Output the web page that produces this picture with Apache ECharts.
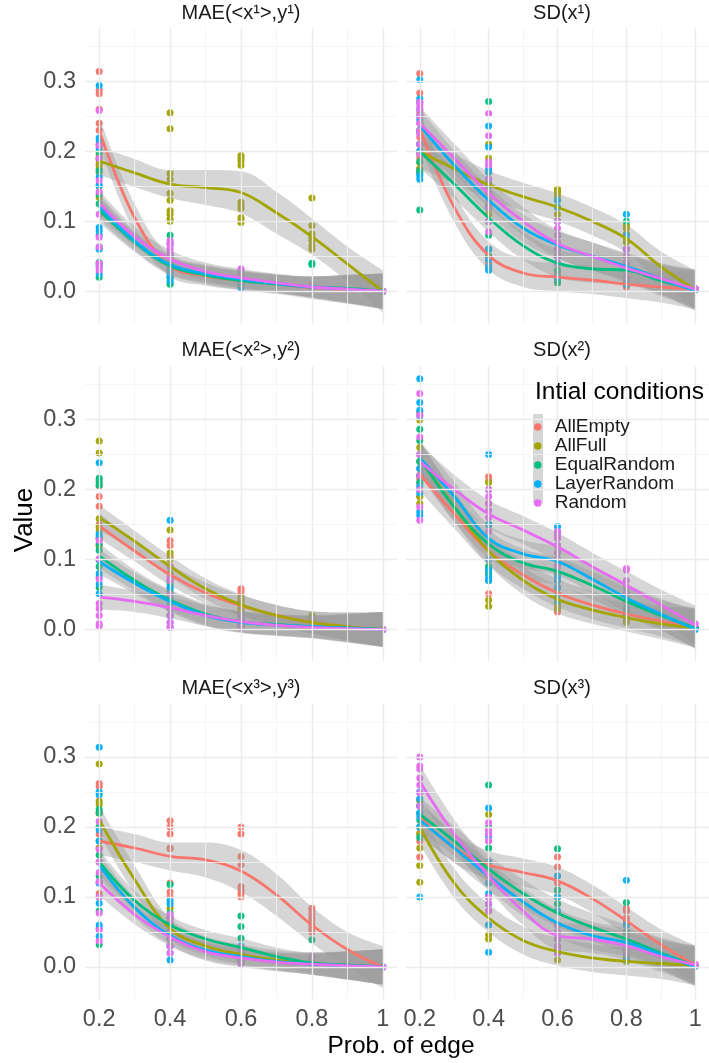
<!DOCTYPE html>
<html><head><meta charset="utf-8">
<script src="https://cdn.jsdelivr.net/npm/echarts@6/dist/echarts.min.js"></script>
<style>html,body{margin:0;padding:0;background:#fff}#c{width:709px;height:1063px}</style>
</head><body><div id="c"></div>
<script>
const seriesNames = ['AllEmpty','AllFull','EqualRandom','LayerRandom','Random'];
const seriesColors = ['#F8766D','#A3A500','#00BF7D','#00B0F6','#E76BF3'];
const panelTitles = ['MAE(<x\u00b9>,y\u00b9)','SD(x\u00b9)','MAE(<x\u00b2>,y\u00b2)','SD(x\u00b2)','MAE(<x\u00b3>,y\u00b3)','SD(x\u00b3)'];
const xLevels = [0.2,0.4,0.6,0.8,1];
const fitX = [0.2,0.3,0.4,0.5,0.6,0.7,0.8,0.9,1];
const xTicks = [0.2,0.4,0.6,0.8,1];
const xMinor = [0.3,0.5,0.7,0.9];
const yTicks = [0,0.1,0.2,0.3];
const yMinor = [0.05,0.15,0.25,0.35];
const xRange = [0.16,1.04];
const yRange = [-0.046,0.376];

// observed points: [series][x level][replicates]
const mae1Pts = [
 [[0.314,0.287,0.282,0.23,0.187,0.18,0.21,0.24,0.26,0.2],[0.05,0.045,0.04,0.035,0.03,0.03,0.025,0.02],[0.02,0.018,0.015,0.012,0.01,0.008],[0.006,0.005,0.004,0.003],[0,0,0]],
 [[0.21,0.2,0.195,0.19,0.182,0.175,0.17,0.134],[0.255,0.232,0.168,0.16,0.14,0.13,0.115,0.11,0.103,0.1],[0.194,0.19,0.186,0.18,0.127,0.122,0.118,0.105,0.101,0.098],[0.133,0.094,0.082,0.077,0.072,0.065,0.06],[0,0,0]],
 [[0.199,0.19,0.172,0.15,0.138,0.125,0.063,0.041,0.038,0.02],[0.08,0.068,0.05,0.04,0.03,0.02,0.012,0.01],[0.02,0.015,0.012,0.01,0.008],[0.04,0.038,0.005,0.004],[0,0]],
 [[0.294,0.219,0.215,0.205,0.163,0.152,0.091,0.086,0.08,0.06,0.035,0.025],[0.05,0.04,0.035,0.03,0.025,0.02,0.015],[0.02,0.015,0.01,0.008,0.005],[0.006,0.004,0.003],[0]],
 [[0.258,0.208,0.19,0.158,0.142,0.11,0.077,0.063,0.04,0.035,0.03],[0.072,0.068,0.065,0.06,0.055,0.05,0.045,0.04],[0.032,0.03,0.025,0.02,0.015],[0.008,0.005,0.004],[0]]
];
const sd1Pts = [
 [[0.311,0.283,0.27,0.255,0.24,0.22,0.19,0.175,0.17],[0.06,0.05,0.045,0.04,0.036,0.032],[0.03,0.025,0.02,0.018,0.015,0.012],[0.015,0.012,0.01,0.008,0.006],[0.003,0.002]],
 [[0.226,0.21,0.2,0.195,0.184,0.175],[0.21,0.19,0.17,0.155,0.14,0.124,0.118,0.11,0.1],[0.146,0.143,0.14,0.135,0.13,0.12,0.11,0.1],[0.094,0.09,0.082,0.075,0.07,0.06],[0.003]],
 [[0.25,0.23,0.21,0.2,0.185,0.172,0.168,0.116],[0.271,0.15,0.12,0.1,0.08,0.06,0.05,0.045],[0.06,0.05,0.04,0.03,0.02,0.015,0.012],[0.1,0.06,0.04,0.03,0.02,0.01],[0.003]],
 [[0.302,0.275,0.27,0.26,0.245,0.23,0.21,0.2,0.165,0.16],[0.236,0.206,0.175,0.17,0.16,0.12,0.1,0.06,0.045,0.035,0.03],[0.13,0.12,0.1,0.08,0.06,0.05,0.04,0.02],[0.11,0.08,0.06,0.04,0.03,0.02,0.01],[0.002]],
 [[0.27,0.265,0.26,0.25,0.24,0.23,0.225,0.21,0.196],[0.254,0.222,0.185,0.18,0.16,0.14,0.13,0.12,0.1,0.085],[0.1,0.09,0.08,0.07,0.06,0.05,0.04],[0.06,0.05,0.04,0.03,0.02],[0.004]]
];
const mae2Pts = [
 [[0.213,0.205,0.19,0.176,0.15,0.13,0.12,0.1],[0.127,0.12,0.104,0.09,0.08,0.07,0.06],[0.058,0.055,0.05,0.045,0.04,0.03],[0.018,0.015,0.012,0.01],[0]],
 [[0.269,0.252,0.158,0.146,0.14,0.13,0.12],[0.142,0.109,0.1,0.09,0.08,0.07],[0.045,0.04,0.035,0.03,0.025],[0.02,0.018,0.015],[0]],
 [[0.216,0.21,0.206,0.122,0.113,0.1,0.09,0.06],[0.065,0.055,0.05,0.045,0.035,0.02],[0.02,0.015,0.01,0.006],[0.005,0.003],[0]],
 [[0.238,0.136,0.132,0.099,0.08,0.075,0.065,0.051],[0.156,0.06,0.05,0.04,0.03,0.02,0.01,0.003],[0.02,0.012,0.008,0.005],[0.005,0.003],[0]],
 [[0.127,0.101,0.072,0.037,0.03,0.02,0.008,0.005],[0.09,0.075,0.07,0.05,0.03,0.02,0.01,0.003],[0.02,0.015,0.01,0.005,0.002],[0.004,0.002],[0]]
];
const sd2Pts = [
 [[0.23,0.22,0.215,0.208,0.2,0.19],[0.218,0.212,0.15,0.12,0.1,0.08,0.051],[0.08,0.07,0.06,0.05,0.04,0.03,0.025],[0.05,0.04,0.03,0.02,0.015],[0.003]],
 [[0.31,0.299,0.26,0.24,0.22,0.19,0.18],[0.21,0.18,0.12,0.09,0.07,0.042,0.033],[0.06,0.05,0.04,0.035,0.03],[0.025,0.02,0.015,0.01],[0.002]],
 [[0.286,0.27,0.25,0.24,0.22,0.21],[0.2,0.15,0.12,0.09,0.085,0.08],[0.12,0.1,0.09,0.08,0.07,0.05,0.04],[0.06,0.05,0.04,0.03,0.02],[0.002]],
 [[0.358,0.324,0.313,0.305,0.23,0.204,0.195,0.168,0.163],[0.25,0.15,0.123,0.1,0.085,0.075,0.07],[0.147,0.14,0.11,0.09,0.075,0.07,0.06],[0.06,0.05,0.04,0.03,0.02],[0]],
 [[0.337,0.306,0.275,0.25,0.22,0.2,0.175,0.156],[0.2,0.19,0.18,0.17,0.16,0.14,0.12],[0.14,0.135,0.13,0.12,0.11,0.1,0.09],[0.087,0.085,0.07,0.06,0.05,0.04],[0.008]]
];
const mae3Pts = [
 [[0.262,0.258,0.22,0.19,0.17,0.15,0.12,0.105],[0.209,0.2,0.19,0.17,0.169,0.12,0.107,0.1],[0.2,0.19,0.158,0.146,0.115,0.11,0.105,0.1],[0.084,0.08,0.075,0.07,0.066,0.06,0.055,0.05],[0]],
 [[0.29,0.237,0.232,0.22,0.2,0.18,0.17],[0.084,0.07,0.06,0.05,0.04,0.03],[0.025,0.02,0.015,0.01],[0.008,0.005],[0]],
 [[0.225,0.22,0.2,0.16,0.13,0.1,0.08,0.032],[0.118,0.077,0.07,0.06,0.05,0.04,0.03],[0.073,0.058,0.041,0.025,0.015,0.01],[0.039,0.01,0.005],[0]],
 [[0.314,0.25,0.246,0.196,0.18,0.12,0.091,0.06,0.055,0.044],[0.095,0.09,0.05,0.04,0.03,0.02,0.01],[0.03,0.02,0.01,0.005],[0.006,0.003],[0]],
 [[0.208,0.168,0.15,0.135,0.122,0.1,0.077,0.053,0.037],[0.075,0.07,0.065,0.05,0.04,0.03,0.02],[0.028,0.02,0.015,0.01,0.005],[0.015,0.008,0.004],[0]]
];
const sd3Pts = [
 [[0.24,0.22,0.2,0.191,0.18,0.157],[0.196,0.19,0.18,0.15,0.13,0.12,0.1],[0.157,0.143,0.13,0.12,0.11,0.1,0.09],[0.084,0.08,0.07,0.065,0.06,0.05,0.045],[0.003]],
 [[0.237,0.2,0.19,0.17,0.145,0.121],[0.218,0.1,0.08,0.06,0.046,0.04],[0.04,0.03,0.025,0.02,0.01],[0.015,0.01,0.008],[0.002]],
 [[0.23,0.22,0.21,0.2,0.185],[0.26,0.2,0.17,0.15,0.14,0.1,0.09],[0.169,0.11,0.1,0.09,0.08,0.06,0.05],[0.092,0.06,0.05,0.04,0.03,0.02,0.01],[0.002]],
 [[0.25,0.24,0.23,0.22,0.215,0.2,0.1],[0.227,0.187,0.15,0.12,0.105,0.09,0.06,0.021],[0.13,0.1,0.08,0.06,0.05,0.04,0.02],[0.124,0.06,0.04,0.03,0.02,0.01],[0.001]],
 [[0.3,0.287,0.283,0.27,0.26,0.249,0.23],[0.206,0.195,0.19,0.18,0.1,0.09,0.08],[0.06,0.05,0.04,0.03,0.025,0.02],[0.04,0.035,0.03,0.025,0.02],[0.004]]
];

// smoothed fits at fitX: [series][9]
const mae1Fit = [
 [0.23,0.105,0.036,0.022,0.015,0.01,0.005,0.002,0],
 [0.186,0.169,0.153,0.148,0.141,0.112,0.078,0.039,0],
 [0.116,0.07,0.036,0.023,0.015,0.01,0.006,0.004,0],
 [0.121,0.072,0.038,0.025,0.017,0.011,0.006,0.003,0],
 [0.126,0.078,0.046,0.028,0.019,0.012,0.006,0.003,0]
];
const sd1Fit = [
 [0.232,0.12,0.051,0.026,0.02,0.016,0.01,0.006,0.002],
 [0.2,0.175,0.152,0.135,0.12,0.1,0.075,0.035,0.002],
 [0.2,0.153,0.105,0.065,0.04,0.032,0.03,0.015,0.003],
 [0.237,0.18,0.13,0.09,0.066,0.05,0.035,0.018,0],
 [0.24,0.19,0.14,0.1,0.068,0.05,0.033,0.018,0.003]
];
const mae2Fit = [
 [0.148,0.112,0.078,0.052,0.034,0.02,0.01,0.004,0],
 [0.16,0.126,0.09,0.058,0.035,0.02,0.01,0.004,0],
 [0.105,0.07,0.042,0.022,0.011,0.007,0.004,0.002,0],
 [0.097,0.066,0.04,0.02,0.01,0.006,0.004,0.002,0],
 [0.046,0.04,0.031,0.02,0.011,0.006,0.003,0.001,0]
];
const sd2Fit = [
 [0.222,0.165,0.112,0.078,0.052,0.035,0.022,0.012,0.003],
 [0.245,0.175,0.112,0.07,0.043,0.028,0.017,0.008,0.002],
 [0.245,0.175,0.122,0.095,0.083,0.063,0.04,0.02,0.002],
 [0.245,0.19,0.13,0.108,0.097,0.072,0.045,0.022,0],
 [0.24,0.2,0.165,0.142,0.118,0.09,0.063,0.035,0.006]
];
const mae3Fit = [
 [0.18,0.17,0.158,0.153,0.137,0.103,0.06,0.025,0],
 [0.21,0.125,0.055,0.03,0.018,0.01,0.005,0.002,0],
 [0.15,0.095,0.06,0.04,0.028,0.015,0.006,0.003,0],
 [0.145,0.085,0.045,0.024,0.015,0.008,0.004,0.002,0],
 [0.12,0.075,0.043,0.022,0.013,0.007,0.004,0.002,0]
];
const sd3Fit = [
 [0.215,0.17,0.146,0.135,0.123,0.098,0.066,0.032,0.003],
 [0.2,0.12,0.07,0.038,0.022,0.013,0.008,0.005,0.002],
 [0.218,0.18,0.14,0.105,0.077,0.057,0.04,0.02,0.002],
 [0.21,0.17,0.13,0.093,0.063,0.045,0.035,0.018,0],
 [0.265,0.19,0.13,0.08,0.045,0.04,0.03,0.015,0.003]
];

// confidence band half-widths at fitX
const seNarrow = [0.018,0.014,0.013,0.013,0.013,0.013,0.015,0.02,0.025];
const seSteep = [0.02,0.02,0.015,0.014,0.014,0.014,0.016,0.02,0.026];
const seWave = [0.02,0.02,0.02,0.025,0.03,0.03,0.026,0.025,0.03];
const seSD = [0.024,0.021,0.02,0.02,0.02,0.02,0.02,0.022,0.028];
const seMid = [0.018,0.015,0.015,0.015,0.015,0.015,0.016,0.02,0.025];
const mae1Se = [seSteep, seWave, seNarrow, seNarrow, seNarrow];
const sd1Se = [seSD, seSD, seSD, seSD, seSD];
const mae2Se = [seMid, seMid, seMid, seMid, seMid];
const sd2Se = [seSD, seSD, seSD, seSD, seSD];
const mae3Se = [seWave, seSteep, seNarrow, seNarrow, seNarrow];
const sd3Se = [seSD, seSD, seSD, seSD, seSD];

const panelPts = [mae1Pts, sd1Pts, mae2Pts, sd2Pts, mae3Pts, sd3Pts];
const panelFit = [mae1Fit, sd1Fit, mae2Fit, sd2Fit, mae3Fit, sd3Fit];
const panelSe = [mae1Se, sd1Se, mae2Se, sd2Se, mae3Se, sd3Se];

// layout
const colLeft = [85, 406];
const rowTop = [28, 366.2, 703.8];
const panelW = 312, panelH = 295.4;
const stripY = [13, 350, 688];
const FONT = '"Liberation Sans", Arial, Helvetica, sans-serif';

const grids = [], xAxes = [], yAxes = [], series = [], titles = [];
const majorStyle = {color:'#ebebeb', width:1.4, type:'solid'};
const minorStyle = {color:'#f3f3f3', width:0.8, type:'solid'};

for (let p = 0; p < 6; p++) {
  const col = p % 2, row = Math.floor(p / 2);
  grids.push({left: colLeft[col], top: rowTop[row], width: panelW, height: panelH, containLabel: false});
  xAxes.push({
    type: 'value', gridIndex: p, min: xRange[0], max: xRange[1],
    axisLine: {show: false}, axisTick: {show: false}, splitLine: {show: false},
    axisLabel: {show: row === 2, customValues: xTicks, margin: 8, fontSize: 23.5, color: '#4d4d4d', fontFamily: FONT,
      formatter: v => String(v)}
  });
  yAxes.push({
    type: 'value', gridIndex: p, min: yRange[0], max: yRange[1],
    axisLine: {show: false}, axisTick: {show: false}, splitLine: {show: false},
    axisLabel: {show: col === 0, customValues: yTicks, margin: 9, fontSize: 23.5, color: '#4d4d4d', fontFamily: FONT,
      formatter: v => v.toFixed(1)}
  });
  titles.push({text: panelTitles[p], left: colLeft[col] + panelW / 2, top: stripY[row], padding: 0,
    textAlign: 'center', textVerticalAlign: 'middle',
    textStyle: {fontSize: 20, fontWeight: 'normal', color: '#1a1a1a', fontFamily: FONT}});
  // grid lines
  series.push({
    type: 'line', xAxisIndex: p, yAxisIndex: p, data: [], z: 1, silent: true,
    markLine: {silent: true, symbol: ['none','none'], label: {show: false}, animation: false,
      emphasis: {disabled: true},
      data: [
        ...xMinor.map(v => ({xAxis: v, lineStyle: minorStyle})),
        ...yMinor.map(v => ({yAxis: v, lineStyle: minorStyle})),
        ...xTicks.map(v => ({xAxis: v, lineStyle: majorStyle})),
        ...yTicks.map(v => ({yAxis: v, lineStyle: majorStyle}))
      ]}
  });
  // points
  for (let s = 0; s < 5; s++) {
    const data = [];
    panelPts[p][s].forEach((vals, j) => vals.forEach(v => data.push([xLevels[j], v])));
    series.push({type: 'scatter', name: seriesNames[s], xAxisIndex: p, yAxisIndex: p, data,
      symbolSize: 7, itemStyle: {color: seriesColors[s], opacity: 1, borderWidth: 0}, z: 2, silent: true});
  }
  // bands + lines (band rows are [value, x] so the stack runs along y)
  for (let s = 0; s < 5; s++) {
    const fit = panelFit[p][s], se = panelSe[p][s];
    const stackId = 'band' + p + '_' + s;
    series.push({type: 'line', xAxisIndex: p, yAxisIndex: p, stack: stackId, stackStrategy: 'all',
      encode: {x: 1, y: 0},
      data: fitX.map((x, k) => [fit[k] - se[k], x]), smooth: 0.4, symbol: 'none',
      lineStyle: {width: 0, opacity: 0}, z: 3, silent: true});
    series.push({type: 'line', xAxisIndex: p, yAxisIndex: p, stack: stackId, stackStrategy: 'all',
      encode: {x: 1, y: 0},
      data: fitX.map((x, k) => [2 * se[k], x]), smooth: 0.4, symbol: 'none',
      lineStyle: {width: 0, opacity: 0}, areaStyle: {color: '#999999', opacity: 0.4}, z: 3, silent: true});
    series.push({type: 'line', xAxisIndex: p, yAxisIndex: p,
      data: fitX.map((x, k) => [x, fit[k]]), smooth: 0.4, symbol: 'none',
      lineStyle: {width: 2.8, color: seriesColors[s]}, z: 3, silent: true});
  }
}

titles.push({text: 'Intial conditions', left: 535, top: 392, padding: 0, textAlign: 'left', textVerticalAlign: 'middle',
  textStyle: {fontSize: 24.5, fontWeight: 'normal', color: '#000', fontFamily: FONT}});
titles.push({text: 'Prob. of edge', left: 401, top: 1046, padding: 0, textAlign: 'center', textVerticalAlign: 'middle',
  textStyle: {fontSize: 24.5, fontWeight: 'normal', color: '#000', fontFamily: FONT}});

const option = {
  animation: false,
  backgroundColor: '#ffffff',
  textStyle: {fontFamily: FONT},
  title: titles,
  grid: grids,
  xAxis: xAxes,
  yAxis: yAxes,
  legend: {
    data: seriesNames.map(n => ({name: n, icon: 'circle'})),
    orient: 'vertical', left: 534, top: 417.5, padding: 0,
    itemWidth: 24, itemHeight: 7.5, itemGap: 0, selectedMode: false, z: 6,
    textStyle: {fontSize: 19, lineHeight: 17, color: '#1a1a1a', fontFamily: FONT}
  },
  graphic: [
    {type: 'rect', z: 5, silent: true, shape: {x: 533, y: 414, width: 10, height: 89},
      style: {fill: 'rgba(153,153,153,0.4)'}},
    {type: 'text', z: 5, silent: true, x: 25, y: 520, rotation: Math.PI / 2,
      style: {text: 'Value', fontSize: 26, fontFamily: FONT, fill: '#000', align: 'center', verticalAlign: 'middle'}}
  ],
  series
};
const chart = echarts.init(document.getElementById('c'), null, {renderer: 'canvas'});
chart.setOption(option);
</script></body></html>
